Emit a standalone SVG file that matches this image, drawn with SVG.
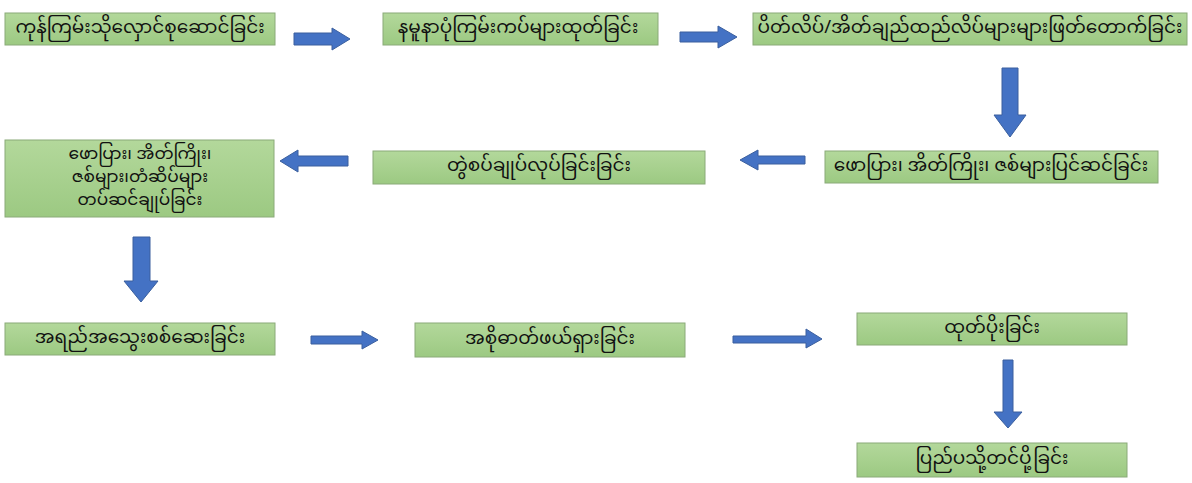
<svg xmlns="http://www.w3.org/2000/svg" width="1192" height="483" viewBox="0 0 1192 483">
<defs>
<linearGradient id="g" x1="0" y1="0" x2="0" y2="1">
<stop offset="0" stop-color="#b3d89b"/>
<stop offset="1" stop-color="#9cc982"/>
</linearGradient>
<style>
.box{fill:url(#g);stroke:#8aaa78;stroke-width:1}
.t{font-family:"Noto Sans Myanmar","Padauk","Myanmar Text","Noto Sans",sans-serif;font-size:18.5px;fill:#111111;text-anchor:middle;dominant-baseline:central}
.t4{font-size:17px}
.ar{fill:#4472c4;stroke:#3a5f9e;stroke-width:1}
</style>
</defs>
<rect width="1192" height="483" fill="#ffffff"/>
<g id="n1"><rect class="box" x="5" y="13" width="270" height="32"/><text class="t" x="140" y="29">ကုန်ကြမ်းသိုလှောင်စုဆောင်ခြင်း</text></g>
<g id="n2"><rect class="box" x="383" y="13" width="275" height="32"/><text class="t" x="518" y="29">နမူနာပုံကြမ်းကပ်များထုတ်ခြင်း</text></g>
<g id="n3"><rect class="box" x="753" y="13" width="434" height="32"/><text class="t" x="970" y="29">ပိတ်လိပ်/အိတ်ချည်ထည်လိပ်များများဖြတ်တောက်ခြင်း</text></g>
<g id="n4"><rect class="box" x="5" y="140" width="269" height="77"/><text class="t t4" x="140" y="155">ဖောပြား၊ အိတ်ကြိုး၊</text><text class="t t4" x="140" y="178">ဇစ်များ၊တံဆိပ်များ</text><text class="t t4" x="140" y="201">တပ်ဆင်ချုပ်ခြင်း</text></g>
<g id="n5"><rect class="box" x="373" y="151" width="332" height="33"/><text class="t" x="539" y="167">တွဲစပ်ချုပ်လုပ်ခြင်းခြင်း</text></g>
<g id="n6"><rect class="box" x="825" y="151" width="333" height="32"/><text class="t" x="991" y="167">ဖောပြား၊ အိတ်ကြိုး၊ ဇစ်များပြင်ဆင်ခြင်း</text></g>
<g id="n7"><rect class="box" x="5" y="323" width="270" height="32"/><text class="t" x="140" y="339">အရည်အသွေးစစ်ဆေးခြင်း</text></g>
<g id="n8"><rect class="box" x="415" y="323" width="270" height="34"/><text class="t" x="550" y="340">အစိုဓာတ်ဖယ်ရှားခြင်း</text></g>
<g id="n9"><rect class="box" x="857" y="313" width="270" height="32"/><text class="t" x="992" y="329">ထုတ်ပိုးခြင်း</text></g>
<g id="n10"><rect class="box" x="857" y="443" width="270" height="34"/><text class="t" x="992" y="460">ပြည်ပသို့တင်ပို့ခြင်း</text></g>
<g id="connectors">
<polygon class="ar" points="294,33 332,33 332,28 350,39 332,50 332,45 294,45"/>
<polygon class="ar" points="680,32 718,32 718,26 737,37 718,48 718,42 680,42"/>
<polygon class="ar" points="1002,68 1018,68 1018,115 1026,115 1010,137 994,115 1002,115"/>
<polygon class="ar" points="805,156 758,156 758,150 740,160 758,170 758,164 805,164"/>
<polygon class="ar" points="348,156 298,156 298,150 280,161 298,172 298,166 348,166"/>
<polygon class="ar" points="133,237 150,237 150,281 158,281 141,302 124,281 133,281"/>
<polygon class="ar" points="311,336 362,336 362,331 378,340 362,349 362,344 311,344"/>
<polygon class="ar" points="733,336 806,336 806,329 822,339 806,348 806,343 733,343"/>
<polygon class="ar" points="1003,360 1013,360 1013,412 1022,412 1008,428 994,412 1003,412"/>
</g>
</svg>
